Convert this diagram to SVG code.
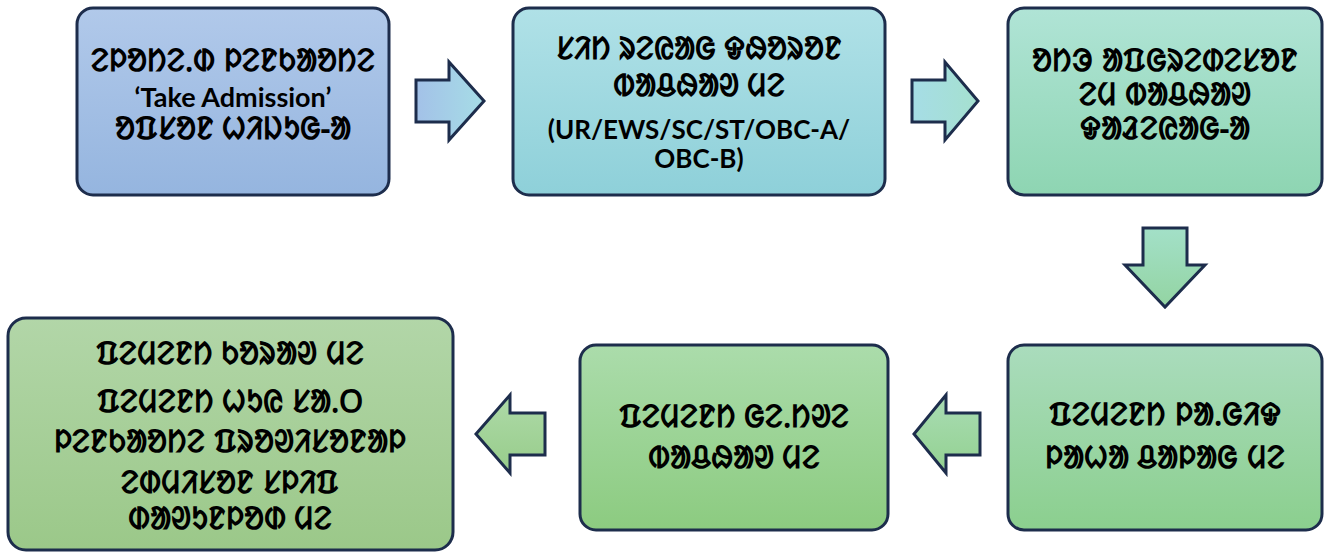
<svg xmlns="http://www.w3.org/2000/svg" width="1332" height="555" viewBox="0 0 1332 555">
<defs>
<linearGradient id="g1" x1="0" y1="0" x2="0" y2="1"><stop offset="0" stop-color="#b1c9ea"/><stop offset="1" stop-color="#95b5df"/></linearGradient>
<linearGradient id="g2" x1="0" y1="0" x2="0" y2="1"><stop offset="0" stop-color="#b0e1e7"/><stop offset="1" stop-color="#8ed0d9"/></linearGradient>
<linearGradient id="g3" x1="0" y1="0" x2="0" y2="1"><stop offset="0" stop-color="#b0e4d6"/><stop offset="1" stop-color="#8ed5b2"/></linearGradient>
<linearGradient id="g4" x1="0" y1="0" x2="0" y2="1"><stop offset="0" stop-color="#aadcbd"/><stop offset="1" stop-color="#8bcf8e"/></linearGradient>
<linearGradient id="g5" x1="0" y1="0" x2="0" y2="1"><stop offset="0" stop-color="#abdcab"/><stop offset="1" stop-color="#8ccb80"/></linearGradient>
<linearGradient id="g6" x1="0" y1="0" x2="0" y2="1"><stop offset="0" stop-color="#b2d6a8"/><stop offset="1" stop-color="#9bc889"/></linearGradient>
<linearGradient id="a1" x1="0" y1="0" x2="1" y2="0"><stop offset="0" stop-color="#a3c1e8"/><stop offset="1" stop-color="#a6dde6"/></linearGradient>
<linearGradient id="a2" x1="0" y1="0" x2="1" y2="0"><stop offset="0" stop-color="#a6dde6"/><stop offset="1" stop-color="#a5e0cf"/></linearGradient>
<linearGradient id="a3" x1="0" y1="0" x2="0" y2="1"><stop offset="0" stop-color="#a3e0c8"/><stop offset="1" stop-color="#93d4a2"/></linearGradient>
<linearGradient id="a4" x1="0" y1="0" x2="0" y2="1"><stop offset="0" stop-color="#a9dcb4"/><stop offset="1" stop-color="#93d190"/></linearGradient>
<linearGradient id="a5" x1="0" y1="0" x2="0" y2="1"><stop offset="0" stop-color="#aedaa8"/><stop offset="1" stop-color="#97cc8a"/></linearGradient>
</defs>
<style>
.box{stroke:#1d2d4c;stroke-width:3}
.arr{stroke:#1d2d4c;stroke-width:3;stroke-linejoin:miter}
.t{font-family:"Noto Sans",sans-serif;font-weight:bold;font-size:31px;fill:#000;text-anchor:middle}
.e{font-family:Lato,"Open Sans",sans-serif;font-weight:bold;font-size:27px;fill:#000;text-anchor:middle}
.s{font-size:26px}
</style>
<g id="connectors">
<path class="arr" fill="url(#a1)" d="M416,80 H449 V62 L484,101 L449,140 V122 H416 Z"/>
<path class="arr" fill="url(#a2)" d="M912,80 H945 V62 L978,101 L945,140 V122 H912 Z"/>
<path class="arr" fill="url(#a3)" d="M1143,228 V265 H1125 L1165,307 L1205,265 H1187 V228 Z"/>
<path class="arr" fill="url(#a4)" d="M980,413 H946 V395 L914,434 L946,473 V455 H980 Z"/>
<path class="arr" fill="url(#a5)" d="M545,413 H510 V395 L476,434 L510,473 V455 H545 Z"/>
</g>
<g id="node1">
<rect class="box" x="77" y="8" width="312" height="187" rx="16" fill="url(#g1)"/>
<text class="t" x="233" y="71">ᱮᱞᱚᱴᱮᱹᱰ ᱞᱮᱱᱠᱟᱚᱴᱮ</text>
<text class="e" x="233" y="107">‘Take Admission’</text>
<text class="t" x="233" y="139">ᱚᱯᱥᱚᱱ ᱦᱤᱡᱩᱜ-ᱟ</text>
</g>
<g id="node2">
<rect class="box" x="513" y="8" width="372" height="187" rx="16" fill="url(#g2)"/>
<text class="t" x="699" y="59">ᱥᱤᱴ ᱨᱮᱭᱟᱜ ᱫᱷᱚᱨᱚᱱ</text>
<text class="t" x="699" y="96">ᱵᱟᱪᱷᱟᱣ ᱢᱮ</text>
<text class="e s" x="699" y="139">(UR/EWS/SC/ST/OBC-A/</text>
<text class="e s" x="699" y="168">OBC-B)</text>
</g>
<g id="node3">
<rect class="box" x="1008" y="8" width="314" height="187" rx="16" fill="url(#g3)"/>
<text class="t" x="1165" y="71">ᱚᱴᱳ ᱟᱯᱜᱨᱮᱰᱮᱥᱚᱱ</text>
<text class="t" x="1165" y="105">ᱮᱢ ᱵᱟᱪᱷᱟᱣ</text>
<text class="t" x="1165" y="139">ᱫᱟᱲᱮᱭᱟᱜ-ᱟ</text>
</g>
<g id="node4">
<rect class="box" x="1008" y="345" width="314" height="185" rx="16" fill="url(#g4)"/>
<text class="t" x="1165" y="425">ᱯᱮᱢᱮᱱᱴ ᱞᱟᱹᱜᱤᱫ</text>
<text class="t" x="1165" y="468">ᱞᱟᱦᱟ ᱪᱟᱞᱟᱜ ᱢᱮ</text>
</g>
<g id="node5">
<rect class="box" x="580" y="345" width="308" height="185" rx="16" fill="url(#g5)"/>
<text class="t" x="734" y="427">ᱯᱮᱢᱮᱱᱴ ᱜᱮᱹᱴᱣᱮ</text>
<text class="t" x="734" y="468">ᱵᱟᱪᱷᱟᱣ ᱢᱮ</text>
</g>
<g id="node6">
<rect class="box" x="8" y="318" width="445" height="232" rx="18" fill="url(#g6)"/>
<text class="t" x="230" y="364">ᱯᱮᱢᱮᱱᱴ ᱠᱚᱨᱟᱣ ᱢᱮ</text>
<text class="t" x="230" y="412">ᱯᱮᱢᱮᱱᱴ ᱦᱩᱭ ᱥᱟᱹᱛ</text>
<text class="t" x="230" y="452">ᱞᱮᱱᱠᱟᱚᱴᱮ ᱯᱨᱚᱣᱤᱥᱚᱱᱟᱞ</text>
<text class="t" x="230" y="493">ᱮᱰᱢᱤᱥᱚᱱ ᱥᱞᱤᱯ</text>
<text class="t" x="230" y="529">ᱰᱟᱣᱩᱱᱞᱚᱰ ᱢᱮ</text>
</g>
</svg>
